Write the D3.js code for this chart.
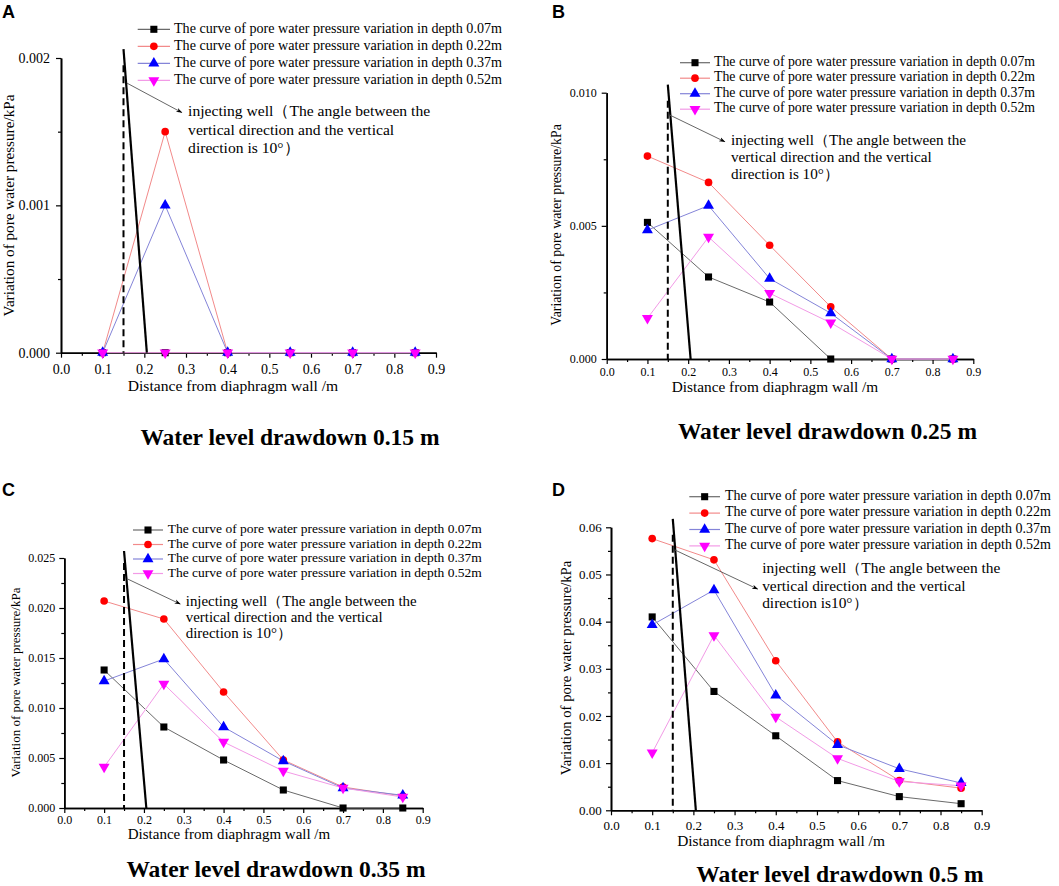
<!DOCTYPE html>
<html>
<head>
<meta charset="utf-8">
<script src="https://cdn.jsdelivr.net/npm/d3@7"></script>
<style>
  html, body { margin: 0; padding: 0; background: #fff; }
  svg { display: block; }
  text { font-family: "Liberation Serif", "Times New Roman", serif; fill: #000; }
  text.letter { font-family: "Liberation Sans", Arial, sans-serif; font-weight: bold; }
</style>
</head>
<body>
<svg id="chart" width="1059" height="886"></svg>
<script>
// ---------------- DATA ----------------
const distances = [0.1, 0.25, 0.4, 0.55, 0.7, 0.85];
const xTickValues = [0, 0.1, 0.2, 0.3, 0.4, 0.5, 0.6, 0.7, 0.8, 0.9];
const depthLabels = ["0.07m", "0.22m", "0.37m", "0.52m"];
const panelLetters = ["A", "B", "C", "D"];
const panelTitles = ["Water level drawdown 0.15 m", "Water level drawdown 0.25 m",
                     "Water level drawdown 0.35 m", "Water level drawdown 0.5 m"];
const yMaxValues = [0.002, 0.010, 0.025, 0.06];
const yMajorSteps = [0.001, 0.005, 0.005, 0.01];
const yLabelDecimals = [3, 3, 3, 2];

// series order: depth 0.07m, 0.22m, 0.37m, 0.52m
const valuesA = [
  [0, 0, 0, 0, 0, 0],
  [0, 0.0015, 0, 0, 0, 0],
  [0, 0.0010, 0, 0, 0, 0],
  [0, 0, 0, 0, 0, 0]
];
const valuesB = [
  [0.00513, 0.00308, 0.00214, 0, 0, 0],
  [0.00762, 0.00663, 0.00427, 0.00196, 0, 0],
  [0.00484, 0.00576, 0.00302, 0.00172, 0, 0],
  [0.00153, 0.00458, 0.00247, 0.00136, 0, 0]
];
const valuesC = [
  [0.0138, 0.0081, 0.0048, 0.0018, 0, 0],
  [0.0207, 0.0189, 0.0116, 0.0048, 0.0021, 0.0012],
  [0.0127, 0.0149, 0.0081, 0.0047, 0.0020, 0.00127],
  [0.0041, 0.0124, 0.0066, 0.0037, 0.0020, 0.0011]
];
const valuesD = [
  [0.0410, 0.0252, 0.0158, 0.0063, 0.0029, 0.0014],
  [0.0576, 0.0531, 0.0317, 0.0145, 0.0063, 0.0047],
  [0.0393, 0.0467, 0.0244, 0.0139, 0.0088, 0.0058],
  [0.0122, 0.0371, 0.0198, 0.0110, 0.0061, 0.0052]
];
const panelValues = [valuesA, valuesB, valuesC, valuesD];

// injecting well: dashed at x=0.15, solid inclined from (0.15, top) to (0.206, 0)
const wellX = 0.15;
const wellBottomX = 0.206;
const wellSolidTop = [0.00206, 0.0103, 0.0257, 0.0618];
const wellDashedTop = [0.00195, 0.0097, 0.0245, 0.0584];

// annotation arrow (data coords): [x0, y0, x1, y1]
const arrowCoords = [
  [0.158, 0.00183, 0.290, 0.00163],
  [0.155, 0.00916, 0.290, 0.00816],
  [0.159, 0.0229, 0.291, 0.0204],
  [0.155, 0.0552, 0.356, 0.0469]
];
const annotationAnchor = [
  [0.305, 0.00163], [0.305, 0.00815], [0.305, 0.0205], [0.367, 0.0511]
];
const annotationTexts = [
  ["injecting well（The angle between the", "vertical direction and the vertical", "direction is 10°）"],
  ["injecting well（The angle between the", "vertical direction and the vertical", "direction is 10°）"],
  ["injecting well（The angle between the", "vertical direction and the vertical", "direction is 10°）"],
  ["injecting well（The angle between the", "vertical direction and the vertical", "direction is10°）"]
];

// ---------------- LAYOUT / STYLE ----------------
const layout = [
  { left: 61,    right: 436,   top: 58,    bottom: 352.7, tickFont: 14, xLabOff: 16,  yLabGap: 11,
    xTitle: [233, 387, 15.6], yTitle: [10.5, 205.5, 15.2],
    legend: { x0: 137.7, x1: 170, tx: 174, y: 29.3, dy: 17, font: 14.1 },
    ann: { font: 15.6, dy: 18.7 }, letter: [2, 18], title: [290, 445] },
  { left: 606.7, right: 973.3, top: 92.7,  bottom: 359,   tickFont: 12, xLabOff: 12.7, yLabGap: 10,
    xTitle: [775, 388.5, 15.3], yTitle: [558, 225, 13.8],
    legend: { x0: 680, x1: 710, tx: 714, y: 62.7, dy: 15.5, font: 13.8 },
    ann: { font: 15.2, dy: 17 }, letter: [552, 18], title: [827.5, 439] },
  { left: 64.3,  right: 422.7, top: 558,   bottom: 808,   tickFont: 12, xLabOff: 12,  yLabGap: 9,
    xTitle: [229, 836, 15], yTitle: [17, 682.5, 13],
    legend: { x0: 133, x1: 163, tx: 167.7, y: 530, dy: 14.5, font: 13.5 },
    ann: { font: 14.9, dy: 16 }, letter: [2, 496], title: [276, 877] },
  { left: 611,   right: 981.7, top: 527.3, bottom: 810.3, tickFont: 13, xLabOff: 14.7, yLabGap: 9.3,
    xTitle: [781, 842.7, 15.4], yTitle: [567.8, 668, 14.7],
    legend: { x0: 689.3, x1: 720, tx: 725, y: 496.7, dy: 16.4, font: 14 },
    ann: { font: 15.4, dy: 17.7 }, letter: [552, 496], title: [840, 882] }
];

const markerFill = ["#000000", "#ff0000", "#0000ff", "#ff00ff"];
const lineColor = ["#6a6a6a", "#f28a8a", "#8484d8", "#f29ae6"];
const symbolTypes = [d3.symbolSquare, d3.symbolCircle, d3.symbolTriangle, d3.symbolTriangle];
const symbolSizes = [50, 46, 52, 52];
const symbolRotate = [0, 0, 0, 180];

const svg = d3.select("#chart");

svg.append("defs").append("marker")
  .attr("id", "arrowhead")
  .attr("viewBox", "0 0 10 10")
  .attr("refX", 9).attr("refY", 5)
  .attr("markerWidth", 7).attr("markerHeight", 7)
  .attr("orient", "auto")
  .append("path").attr("d", "M0,1.5 L10,5 L0,8.5 L3,5 Z").attr("fill", "#000");

function drawMarker(g, i, x, y) {
  g.append("path")
    .attr("d", d3.symbol().type(symbolTypes[i]).size(symbolSizes[i])())
    .attr("transform", `translate(${x},${y}) rotate(${symbolRotate[i]})`)
    .attr("fill", markerFill[i]);
}

panelValues.forEach((vals, p) => {
  const L = layout[p];
  const g = svg.append("g");
  const x = d3.scaleLinear().domain([0, 0.9]).range([L.left, L.right]);
  const y = d3.scaleLinear().domain([0, yMaxValues[p]]).range([L.bottom, L.top]);

  const step = yMajorSteps[p];
  const nMajor = Math.round(yMaxValues[p] / step);
  const yMajor = d3.range(nMajor + 1).map(k => k * step);
  const yMinor = d3.range(nMajor).map(k => (k + 0.5) * step);
  const xMinor = d3.range(9).map(k => (k + 0.5) * 0.1);

  // axes
  const xAxis = g.append("g").attr("transform", `translate(0,${L.bottom})`)
    .call(d3.axisBottom(x).tickValues(xTickValues).tickFormat(d3.format(".1f"))
      .tickSize(5).tickSizeOuter(0).tickPadding(L.xLabOff - 10));
  const xAxisMinor = g.append("g").attr("transform", `translate(0,${L.bottom})`)
    .call(d3.axisBottom(x).tickValues(xMinor).tickFormat("").tickSize(3).tickSizeOuter(0));
  const yAxis = g.append("g").attr("transform", `translate(${L.left},0)`)
    .call(d3.axisLeft(y).tickValues(yMajor).tickFormat(d3.format("." + yLabelDecimals[p] + "f"))
      .tickSize(5).tickSizeOuter(0).tickPadding(L.yLabGap - 5));
  const yAxisMinor = g.append("g").attr("transform", `translate(${L.left},0)`)
    .call(d3.axisLeft(y).tickValues(yMinor).tickFormat("").tickSize(3).tickSizeOuter(0));

  [xAxis, xAxisMinor, yAxis, yAxisMinor].forEach(a => {
    a.select(".domain").attr("stroke", "#000").attr("stroke-width", 1.6);
    a.selectAll(".tick line").attr("stroke", "#000").attr("stroke-width", 1.2);
    a.selectAll("text").attr("font-size", L.tickFont).attr("fill", "#000");
  });
  xAxis.selectAll("text").attr("dy", "0.35em").attr("y", L.xLabOff);

  // axis titles
  g.append("text").attr("x", L.xTitle[0]).attr("y", L.xTitle[1])
    .attr("text-anchor", "middle").attr("dominant-baseline", "middle")
    .attr("font-size", L.xTitle[2]).text("Distance from diaphragm wall /m");
  g.append("text")
    .attr("transform", `translate(${L.yTitle[0]},${L.yTitle[1]}) rotate(-90)`)
    .attr("text-anchor", "middle").attr("dominant-baseline", "middle")
    .attr("font-size", L.yTitle[2]).text("Variation of pore water pressure/kPa");

  // data lines
  const line = d3.line().x((d, k) => x(distances[k])).y(d => y(d));
  vals.forEach((s, i) => {
    g.append("path").datum(s).attr("d", line)
      .attr("fill", "none").attr("stroke", lineColor[i]).attr("stroke-width", 1);
  });

  // injecting well
  g.append("line")
    .attr("x1", x(wellX)).attr("x2", x(wellX))
    .attr("y1", y(wellDashedTop[p])).attr("y2", y(0))
    .attr("stroke", "#000").attr("stroke-width", 2).attr("stroke-dasharray", "7,4");
  g.append("line")
    .attr("x1", x(wellX)).attr("y1", y(wellSolidTop[p]))
    .attr("x2", x(wellBottomX)).attr("y2", y(0))
    .attr("stroke", "#000").attr("stroke-width", 2.2);

  // markers
  vals.forEach((s, i) => {
    s.forEach((v, k) => drawMarker(g, i, x(distances[k]), y(v)));
  });

  // arrow annotation
  const a = arrowCoords[p];
  g.append("line")
    .attr("x1", x(a[0])).attr("y1", y(a[1]))
    .attr("x2", x(a[2])).attr("y2", y(a[3]))
    .attr("stroke", "#555").attr("stroke-width", 0.9)
    .attr("marker-end", "url(#arrowhead)");
  const an = annotationAnchor[p];
  annotationTexts[p].forEach((t, k) => {
    g.append("text")
      .attr("x", x(an[0])).attr("y", y(an[1]) + k * L.ann.dy)
      .attr("dominant-baseline", "middle")
      .attr("font-size", L.ann.font).text(t);
  });

  // legend
  const lg = L.legend;
  depthLabels.forEach((dl, i) => {
    const yy = lg.y + i * lg.dy;
    g.append("line").attr("x1", lg.x0).attr("x2", lg.x1).attr("y1", yy).attr("y2", yy)
      .attr("stroke", lineColor[i]).attr("stroke-width", 1.2);
    drawMarker(g, i, (lg.x0 + lg.x1) / 2, yy);
    g.append("text").attr("x", lg.tx).attr("y", yy)
      .attr("dominant-baseline", "middle").attr("font-size", lg.font)
      .text("The curve of pore water pressure variation in depth " + dl);
  });

  // panel letter
  g.append("text").attr("class", "letter").attr("x", L.letter[0]).attr("y", L.letter[1])
    .attr("font-size", 18).text(panelLetters[p]);

  // panel title
  g.append("text").attr("x", L.title[0]).attr("y", L.title[1])
    .attr("text-anchor", "middle").attr("font-weight", "bold")
    .attr("font-size", 23.5).text(panelTitles[p]);
});
</script>
</body>
</html>
